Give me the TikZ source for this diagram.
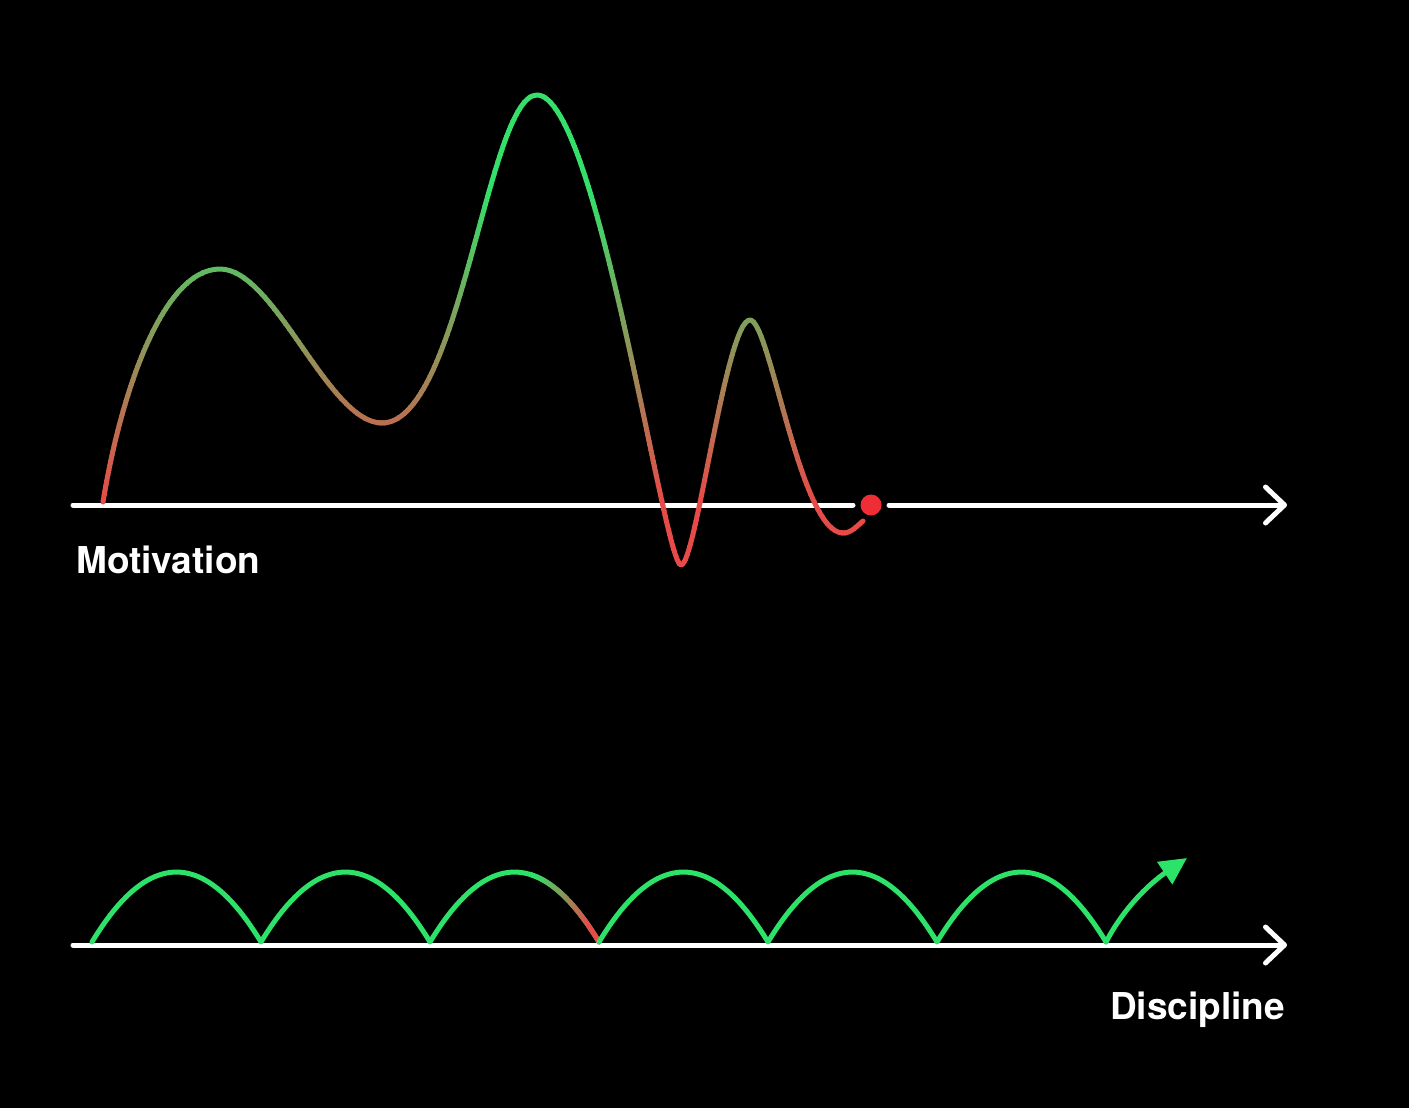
\documentclass[tikz,border=0pt]{standalone}
\usepackage{fontspec}
\setmainfont{TeX Gyre Heros}
\usetikzlibrary{arrows.meta}
\definecolor{mgreen}{RGB}{52,224,106}
\definecolor{mred}{RGB}{232,74,72}
\definecolor{dgreen}{RGB}{44,226,104}
\definecolor{dotred}{RGB}{238,46,52}
\begin{document}
\begin{tikzpicture}[x=1pt,y=-1pt,line cap=round,line join=round,
  axisline/.style={white,line width=5pt},
  curve/.style={line width=5pt},
  lbl/.style={text=white,inner sep=0pt,font=\bfseries\fontsize{37}{37}\selectfont},
  motpath/.style={insert path={(103,502) .. controls (121,392) and (163,269) .. (220,269)
    .. controls (275,269) and (328,423) .. (382,423)
    .. controls (460,423) and (488,95) .. (537,95)
    .. controls (597,95) and (664,565) .. (681,565)
    .. controls (696,565) and (726,320) .. (750,320)
    .. controls (770,320) and (800,533) .. (843,533)
    .. controls (851,533) and (856,527) .. (863,521)}}]
\fill[black] (0,0) rectangle (1409,1108);
\useasboundingbox (0,0) rectangle (1409,1108);

% top axis
\coordinate (ta0) at (73,505);
\coordinate (ta1) at (1287,505);
\node[circle,fill=dotred,inner sep=0pt,minimum size=21pt,outer sep=7.5pt] (dot) at (871,505) {};
\draw[axisline] (ta0) -- (dot);
\draw[axisline,-{Straight Barb[length=19pt,width=36pt,round]}] (dot) -- (ta1);

% motivation curve, coloured by height
\foreach \i in {0,...,99}{
  \pgfmathsetmacro\ya{80+5*\i}
  \pgfmathsetmacro\yb{\ya+5.6}
  \pgfmathtruncatemacro\p{min(100,max(0,(\ya+2.5-190)/3.1))}
  \begin{scope}
    \clip (0,\ya) rectangle (1409,\yb);
    \draw[curve,color=mred!\p!mgreen,motpath];
  \end{scope}
}

% bottom axis
\coordinate (ba0) at (73,945);
\coordinate (ba1) at (1287,945);
\draw[axisline,-{Straight Barb[length=19pt,width=36pt,round]}] (ba0) -- (ba1);

% discipline humps
\foreach \n/\x in {0/92,1/261,2/430,3/599,4/768,5/937,6/1106}{
  \coordinate (d\n) at (\x,942);
}
\coordinate (tip) at (1187,858);
\draw[curve,dgreen] (d0) .. controls +(56.3,-93.3) and +(-56.3,-93.3) .. (d1)
  .. controls +(56.3,-93.3) and +(-56.3,-93.3) .. (d2)
  .. controls +(56.3,-93.3) and +(-56.3,-93.3) .. (d3);
\foreach \i in {0,...,34}{
  \pgfmathsetmacro\xa{530+2*\i}
  \pgfmathsetmacro\xb{\xa+2.4}
  \pgfmathtruncatemacro\p{min(100,max(0,(\xa+1-535)/0.55))}
  \begin{scope}
    \clip (\xa,850) rectangle (\xb,950);
    \draw[curve,color=mred!\p!dgreen] (d2) .. controls +(56.3,-93.3) and +(-56.3,-93.3) .. (d3);
  \end{scope}
}
\draw[curve,dgreen] (d3) .. controls +(56.3,-93.3) and +(-56.3,-93.3) .. (d4)
  .. controls +(56.3,-93.3) and +(-56.3,-93.3) .. (d5)
  .. controls +(56.3,-93.3) and +(-56.3,-93.3) .. (d6);
\draw[curve,dgreen,-{Triangle[length=27pt,width=26pt]}] (d6) .. controls +(22,-42) and +(-28,19) .. (tip);

% labels
\node[lbl,anchor=base west] (mot) at (76,573) {Motivation};
\node[lbl,anchor=base east] (dis) at (1285,1019) {Discipline};
\end{tikzpicture}
\end{document}
